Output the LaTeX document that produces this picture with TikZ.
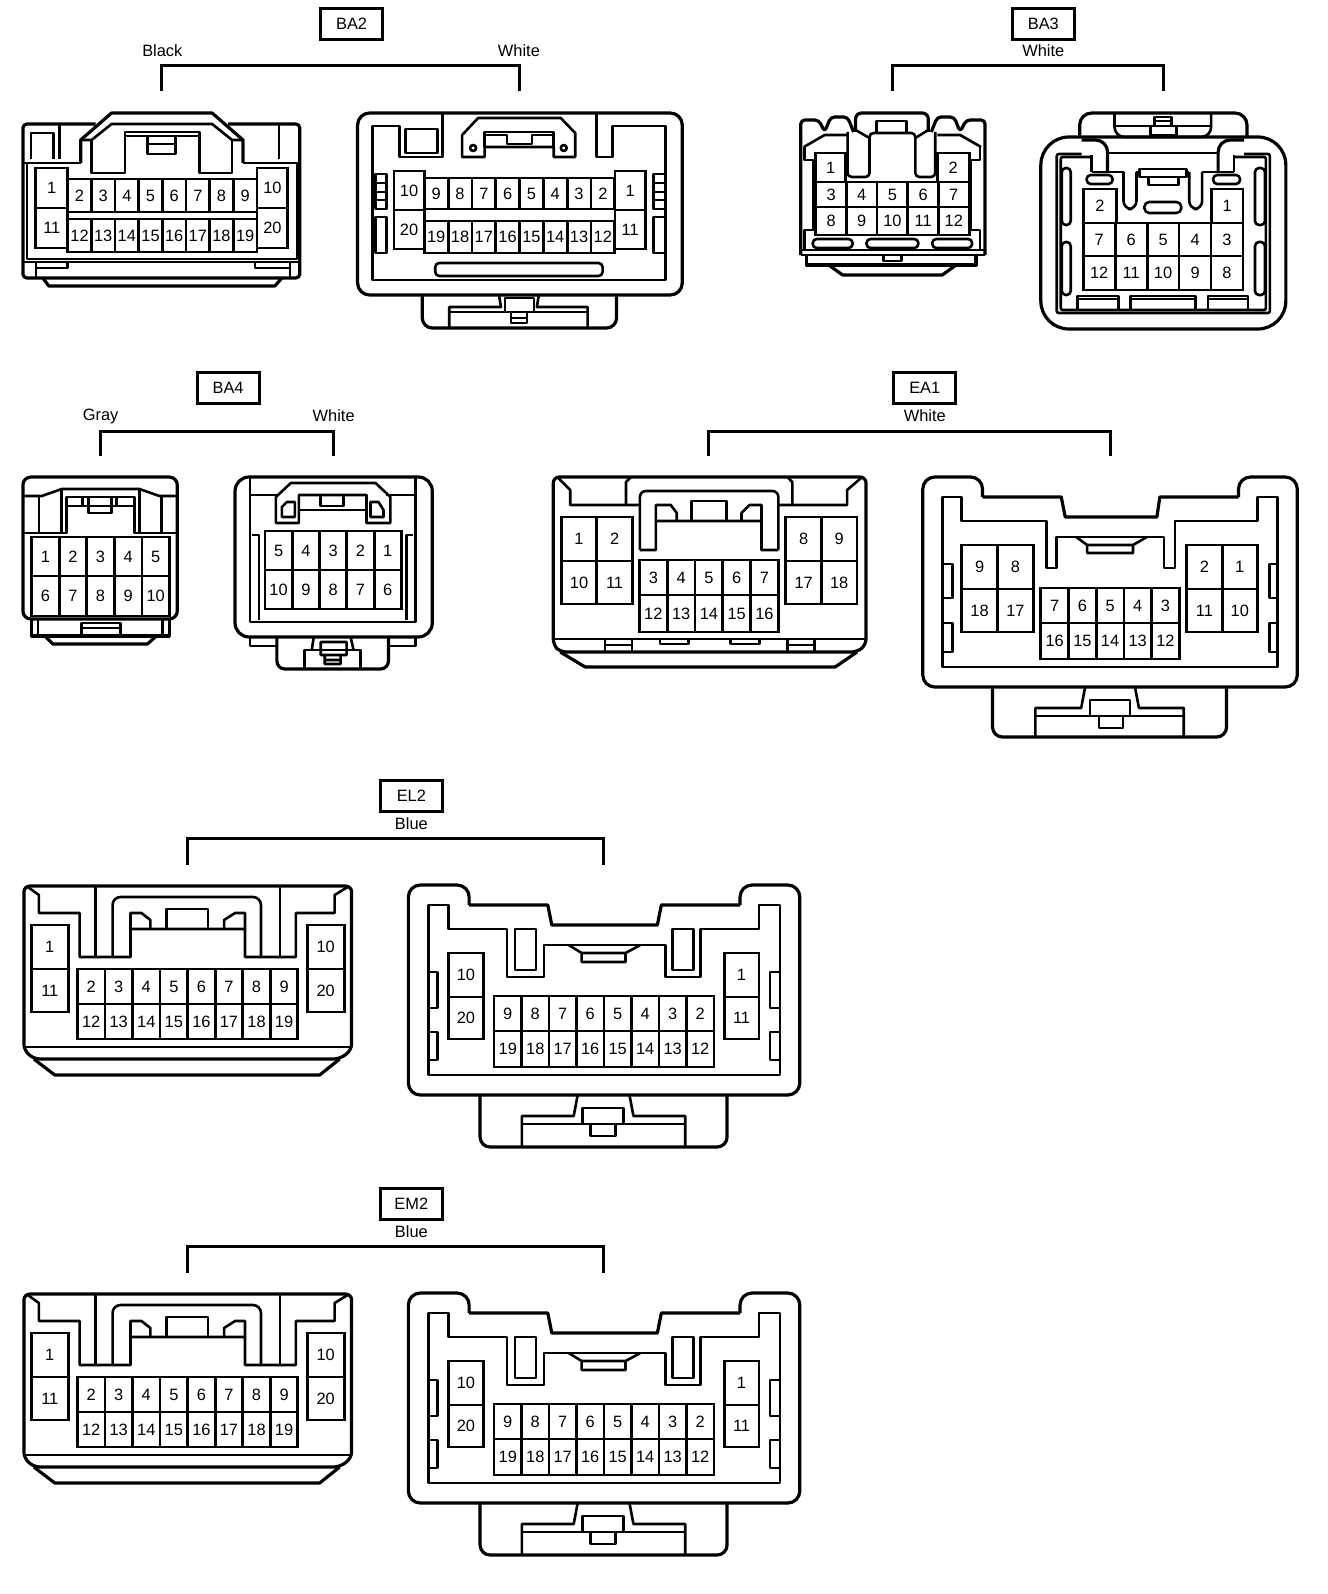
\documentclass[tikz,border=0pt]{standalone}
\usepackage{fontspec}
\setmainfont{Liberation Sans}
\usetikzlibrary{positioning}

% one row of cavities: prefix, left edge, cell width, top edge, cell height, numbers
\newcommand{\cavrow}[6]{
    \foreach \n [count=\i from 0] in {#6} {
        \node[cavity, minimum width=#3*0.498pt, minimum height=#5*0.5pt] (#1\n) at ({#2+(\i+0.5)*#3},{#4+0.5*#5}) {\n};
    }
}

\begin{document}
\begin{tikzpicture}[
        x=0.498pt, y=-0.5pt,
        cavity/.style={rectangle, draw=black, line width=1.4pt, inner sep=0pt, outer sep=0pt, font=\fontsize{8.2}{9}\selectfont},
        tagbox/.style={rectangle, draw=black, line width=1.5pt, minimum width=31pt, minimum height=15.5pt, inner sep=0pt, font=\fontsize{8.2}{9}\selectfont},
        colour/.style={inner sep=0pt, font=\fontsize{8.2}{9}\selectfont},
        bracket/.style={line width=1.5pt},
        outline/.style={line width=1.6pt, line join=round},
        detail/.style={line width=1.3pt, line join=round}
    ]
    \useasboundingbox (0,0) rectangle (1333.3,1594);

    % BA2 labels
    \node[tagbox] (ba2tag) at (353,24) {BA2};
    \node[colour] (ba2black) at (163,51) {Black};
    \node[colour] (ba2white) at (521,51) {White};
    \coordinate (ba2l) at (162,91);
    \coordinate (ba2r) at (521.5,91);
    \draw[bracket] (ba2l) -- ++(0,-25) -| (ba2r);

    % BA2 black
    \draw[outline, rounded corners=2pt] (96,124) -- (23,124) -- (23,278) -- (301,278) -- (301,124) -- (229,124);
    \draw[detail] (23,163) -- (81,163) (244,163) -- (301,163);
    \draw[detail] (27,163) -- (27,259) -- (298,259) -- (298,163);
    \draw[detail] (23,262) -- (301,262);
    \draw[detail] (31,159) -- (31,133) -- (54,133) -- (54,159);
    \draw[detail] (60,124) -- (60,159) (280,124) -- (280,159);
    \draw[outline] (81,163) -- (81,140) -- (112,113) -- (213,113) -- (244,140) -- (244,163);
    \draw[detail] (81,140) -- (92,140) -- (112,124) -- (213,124) -- (233,140) -- (244,140);
    \draw[detail] (92,140) -- (92,173) -- (125.5,173) -- (125.5,132) -- (200,132) -- (200,173) -- (233,173) -- (233,140);
    \draw[detail] (125.5,136) -- (200,136) (148,136) rectangle (176,154) (148,144) -- (176,144);
    \draw[detail] (36,262) -- (36,278) (291,262) -- (291,278);
    \draw[detail] (36,268) -- (68,268) -- (68,262) (291,268) -- (256,268) -- (256,262);
    \draw[outline] (43,278) -- (49,286) -- (276,286) -- (283,278);
    \cavrow{a}{36}{32}{168}{40}{1}
    \cavrow{a}{36}{32}{208}{40}{11}
    \cavrow{a}{258}{31}{168}{40}{10}
    \cavrow{a}{258}{31}{208}{40}{20}
    \cavrow{a}{68}{23.75}{179}{33}{2,3,4,5,6,7,8,9}
    \cavrow{a}{68}{23.75}{219}{33}{12,13,14,15,16,17,18,19}

    % BA2 white
    \draw[outline, rounded corners=6pt] (359,113) rectangle (685,295);
    \draw[detail] (444,113) -- (444,157) -- (401,157) -- (401,126) -- (374,126) -- (374,280) -- (668,280) -- (668,126) -- (615,126) -- (615,157) -- (599,157) -- (599,113);
    \draw[detail] (407,129) rectangle (439,153);
    \draw[detail] (464,157) -- (464,135) -- (480,118) -- (563,118) -- (577.5,133) -- (577.5,157) -- (556,157) -- (556,147) -- (486.5,147) -- (486.5,157) -- cycle;
    \draw[detail] (486.5,147) -- (486.5,132) -- (556,132) -- (556,147);
    \draw[detail] (486.5,135) -- (509,135) -- (509,144) -- (534,144) -- (534,135) -- (556,135);
    \draw[detail] (475,148) circle (3) (566,148) circle (3);
    \draw[detail] (377,174) rectangle (388,209) (377,183) -- (388,183) (377,192) -- (388,192) (377,200) -- (388,200);
    \draw[detail] (377,217) rectangle (388,253);
    \draw[detail] (656,174) rectangle (668,209) (656,183) -- (668,183) (656,192) -- (668,192) (656,200) -- (668,200);
    \draw[detail] (656,217) rectangle (668,253);
    \draw[detail, rounded corners=2pt] (437,263) rectangle (605,276);
    \draw[outline, rounded corners=5pt] (424,295) -- (424,328) -- (619,328) -- (619,295);
    \draw[detail] (451,328) -- (451,307) -- (503,307) -- (501,295) (590,328) -- (590,307) -- (539,307) -- (541,295);
    \draw[detail] (451,312) -- (507,312) (536,312) -- (590,312);
    \draw[detail] (507,298) rectangle (536,312) (513,312) rectangle (529,323) (513,318) -- (529,318);
    \cavrow{b}{395.5}{30.5}{171}{39}{10}
    \cavrow{b}{395.5}{30.5}{210}{39}{20}
    \cavrow{b}{617.5}{30.5}{171}{39}{1}
    \cavrow{b}{617.5}{30.5}{210}{39}{11}
    \cavrow{b}{426}{23.9}{178}{31}{9,8,7,6,5,4,3,2}
    \cavrow{b}{426}{23.9}{221}{32}{19,18,17,16,15,14,13,12}

    % BA3 labels
    \node[tagbox] (ba3tag) at (1047.5,24) {BA3};
    \node[colour] (ba3white) at (1047.5,51) {White};
    \coordinate (ba3l) at (896,91);
    \coordinate (ba3r) at (1168.5,91);
    \draw[bracket] (ba3l) -- ++(0,-25) -| (ba3r);

    % BA3 first
    \begin{scope}[shift={(2,0)}]
    \draw[outline, rounded corners=2pt] (802,255) -- (802,120) -- (820,120) -- (826,132) -- (832,117) -- (849,117) -- (855,132);
    \draw[outline, rounded corners=2pt] (987,255) -- (987,120) -- (968,120) -- (962,132) -- (956,117) -- (939,117) -- (933,132);
    \draw[detail] (805,147) -- (826,135) -- (849,135) (983,147) -- (962,135) -- (939,135);
    \draw[detail] (806,147) -- (806,160) -- (815,160) -- (815,230) -- (806,230) -- (806,250);
    \draw[detail] (982,147) -- (982,160) -- (973,160) -- (973,230) -- (982,230) -- (982,250);
    \draw[detail] (802,250) -- (987,250) (802,255) -- (987,255);
    \draw[outline, rounded corners=3pt] (857,132) -- (857,113) -- (930,113) -- (930,132);
    \draw[detail] (857,130) -- (871,138) (930,130) -- (917,138);
    \draw[detail, rounded corners=2pt] (849,132) -- (849,177) -- (871,177) -- (871,133) -- (917,133) -- (917,177) -- (937,177) -- (937,132);
    \draw[detail] (878,121) rectangle (908,133);
    \draw[detail, rounded corners=2pt] (814,239) rectangle (854,248) (868,239) rectangle (920,248) (934,239) rectangle (974,248);
    \draw[outline] (808,255) -- (808,265) -- (978,265) -- (978,255);
    \draw[detail] (885,255) -- (885,261) -- (903,261) -- (903,255);
    \draw[outline] (830,265) -- (844,275) -- (944,275) -- (958,265);
    \cavrow{c}{817}{30}{153}{29}{1}
    \cavrow{c}{939}{32}{153}{29}{2}
    \cavrow{c}{817}{30.8}{182}{25}{3,4,5,6,7}
    \cavrow{c}{817}{30.8}{207}{28}{8,9,10,11,12}
    \end{scope}

    % BA3 second
    \draw[outline, rounded corners=14pt] (1045,137) rectangle (1291,329);
    \draw[outline, rounded corners=6pt] (1084,137) -- (1084,113) -- (1252,113) -- (1252,137);
    \draw[detail, rounded corners=5pt] (1119,113) -- (1119,137) -- (1216,137) -- (1216,113);
    \draw[detail] (1119,126) -- (1216,126);
    \draw[detail] (1159,117) rectangle (1176,126) (1159,121) -- (1176,121) (1155,126) rectangle (1181,135);
    \draw[detail, rounded corners=1pt] (1086,154) -- (1061,154) -- (1061,313) -- (1275,313) -- (1275,154) -- (1249,154);
    \draw[detail, rounded corners=1pt] (1096,157) -- (1065,157) -- (1065,310) -- (1271,310) -- (1271,157) -- (1239,157);
    \draw[outline, rounded corners=6pt] (1086,140) -- (1112,140) -- (1112,172);
    \draw[outline, rounded corners=6pt] (1249,140) -- (1223,140) -- (1223,172);
    \draw[detail] (1096,172) -- (1096,155) (1239,172) -- (1239,155) (1112,153) -- (1223,153);
    \draw[detail] (1096,172) -- (1128,172) (1207,172) -- (1239,172);
    \draw[detail, rounded corners=4pt] (1128,172) -- (1128,209) -- (1141,209) -- (1141,172);
    \draw[detail, rounded corners=4pt] (1194,172) -- (1194,209) -- (1207,209) -- (1207,172);
    \draw[detail] (1141,172) -- (1144,172) (1191,172) -- (1194,172) (1144,169) rectangle (1191,177) (1153,177) rectangle (1183,185);
    \draw[detail, rounded corners=2.4pt] (1149,202) rectangle (1186,213);
    \draw[detail, rounded corners=2pt] (1091,175) rectangle (1117,184) (1218,175) rectangle (1245,184);
    \draw[detail, rounded corners=2pt] (1066,168) rectangle (1075,225) (1066,242) rectangle (1075,295);
    \draw[detail, rounded corners=2pt] (1260,168) rectangle (1270,225) (1260,242) rectangle (1270,295);
    \draw[detail] (1082,310) -- (1082,296) -- (1123,296) -- (1123,310) (1135,310) -- (1135,296) -- (1200,296) -- (1200,310) (1213,310) -- (1213,296) -- (1253,296) -- (1253,310);
    \draw[detail] (1082,299) -- (1123,299) (1135,299) -- (1200,299) (1213,299) -- (1253,299);
    \cavrow{d}{1087.5}{33.5}{189}{34}{2}
    \cavrow{d}{1216}{32}{189}{34}{1}
    \cavrow{d}{1087.5}{32.1}{223}{33}{7,6,5,4,3}
    \cavrow{d}{1087.5}{32.1}{256}{34}{12,11,10,9,8}

    % BA4 labels
    \node[tagbox] (ba4tag) at (229,388) {BA4};
    \node[colour] (ba4gray) at (101,416) {Gray};
    \node[colour] (ba4white) at (335,416) {White};
    \coordinate (ba4l) at (101,456);
    \coordinate (ba4r) at (335,456);
    \draw[bracket] (ba4l) -- ++(0,-25) -| (ba4r);

    % BA4 gray
    \draw[outline, rounded corners=4pt] (23,619) -- (23,477) -- (178,477) -- (178,619) -- cycle;
    \draw[detail] (23,496) -- (42,496) -- (62,489) -- (140,489) -- (160,496) -- (178,496);
    \draw[detail] (39,496) -- (39,533) (62,489) -- (62,533) (140,489) -- (140,533) (162,496) -- (162,533);
    \draw[detail] (23,533) -- (67,533) -- (67,497) -- (135,497) -- (135,533) -- (178,533);
    \draw[detail] (67,506) -- (135,506) (89,497) -- (89,513) -- (112,513) -- (112,497) (83,497) -- (83,506) (117,497) -- (117,506);
    \draw[outline] (32,619) -- (32,636) -- (170,636) -- (170,619);
    \draw[detail] (38,619) -- (38,636) (163,619) -- (163,636) (82,636) -- (82,623) -- (121,623) -- (121,636) (82,628) -- (121,628);
    \draw[outline] (45,636) -- (53,644) -- (148,644) -- (157,636);
    \cavrow{e}{31.7}{27.7}{537}{39}{1,2,3,4,5}
    \cavrow{e}{31.7}{27.7}{576}{40}{6,7,8,9,10}

    % BA4 white
    \draw[outline, rounded corners=7pt] (236,477) rectangle (434,637);
    \draw[detail] (251,477) -- (251,622) -- (417,622) -- (417,477);
    \draw[detail] (251,495) -- (278,495) (388,495) -- (417,495);
    \draw[detail] (277,523) -- (277,497) -- (292,483) -- (377,483) -- (392,497) -- (392,523) -- (368,523) -- (368,495) -- (300,495) -- (300,523) -- cycle;
    \draw[detail] (300,510) -- (368,510) (322,495) -- (322,506) -- (345,506) -- (345,495);
    \draw[detail] (283,517) -- (283,507) -- (288,502) -- (296,502) -- (296,517) -- cycle;
    \draw[detail] (372,517) -- (372,502) -- (380,502) -- (385,510) -- (385,517) -- cycle;
    \draw[detail] (253,535) -- (260,535) -- (260,620) (415,535) -- (408,535) -- (408,620);
    \draw[detail] (251,637) -- (251,646) -- (278,646) (417,637) -- (417,646) -- (390,646);
    \draw[outline, rounded corners=4pt] (278,637) -- (278,669) -- (390,669) -- (390,637);
    \draw[detail] (306,669) -- (306,650) -- (362,650) -- (362,669);
    \draw[detail] (315,637) -- (313,650) (352,637) -- (355,650) (322,642) rectangle (348,655) (326,655) rectangle (342,664) (326,660) -- (342,660);
    \cavrow{f}{266}{27.4}{531}{39}{5,4,3,2,1}
    \cavrow{f}{266}{27.4}{570}{39}{10,9,8,7,6}

    % EA1 labels and both halves
    \begin{scope}[shift={(2.5,0)}]
    \node[tagbox] (ea1tag) at (926,388) {EA1};
    \node[colour] (ea1white) at (926,416) {White};
    \coordinate (ea1l) at (709,456);
    \coordinate (ea1r) at (1112,456);
    \draw[bracket] (ea1l) -- ++(0,-25) -| (ea1r);

    % EA1 first
    \draw[outline, rounded corners=3pt] (560,652) -- (553,645) -- (553,477) -- (867,477) -- (867,645) -- (858,652) -- cycle;
    \draw[detail] (553,639) -- (867,639);
    \draw[outline] (560,652) -- (585,667) -- (836,667) -- (858,652);
    \draw[detail] (558,478) -- (570,490) -- (570,505) -- (639,505) (779,505) -- (848,505) -- (848,490) -- (862,478);
    \draw[detail] (631,477) -- (626,482) -- (626,505) (788,477) -- (793,482) -- (793,505);
    \draw[detail, rounded corners=3pt] (640,550) -- (640,491) -- (779,491) -- (779,550);
    \draw[detail] (640,550) -- (656,550) -- (656,505) -- (671,505) -- (677,513) -- (677,521) (656,521) -- (762,521);
    \draw[detail] (779,550) -- (762,550) -- (762,505) -- (750,505) -- (742,513) -- (742,521);
    \draw[detail] (691.5,521) -- (691.5,501) -- (727,501) -- (727,521);
    \draw[detail] (605,639) -- (605,652) (632,639) -- (632,652) (605,645) -- (632,645);
    \draw[detail] (788,639) -- (788,652) (815,639) -- (815,652) (788,645) -- (815,645);
    \draw[detail] (660,639) -- (660,644) -- (689,644) -- (689,639) (731,639) -- (731,644) -- (760,644) -- (760,639);
    \cavrow{g}{561}{35.7}{517}{44}{1,2}
    \cavrow{g}{561}{35.7}{561}{43}{10,11}
    \cavrow{g}{786.5}{35.7}{517}{44}{8,9}
    \cavrow{g}{786.5}{35.7}{561}{43}{17,18}
    \cavrow{g}{639.5}{27.9}{560}{35}{3,4,5,6,7}
    \cavrow{g}{639.5}{27.9}{595}{37}{12,13,14,15,16}

    % EA1 second
    \draw[outline, rounded corners=6pt] (984,497) -- (984,477) -- (924,477) -- (924,687) -- (1300,687) -- (1300,477) -- (1241,477) -- (1241,497);
    \draw[outline] (984,497) -- (1063,497) -- (1067,517) -- (1159,517) -- (1162,497) -- (1241,497);
    \draw[detail] (944,667) -- (944,497) -- (963,497) -- (963,521) -- (1048,521) -- (1048,568) -- (1058,568) -- (1058,537) -- (1166,537) -- (1166,568) -- (1177,568) -- (1177,521) -- (1260,521) -- (1260,497) -- (1280,497) -- (1280,667) -- cycle;
    \draw[detail] (1078,537) -- (1089,545) -- (1135,545) -- (1149,537) (1089,545) -- (1089,553) -- (1135,553) -- (1135,545);
    \draw[detail] (944,564) -- (954,564) -- (954,598) -- (944,598) (944,623) -- (954,623) -- (954,652) -- (944,652);
    \draw[detail] (1280,564) -- (1272,564) -- (1272,598) -- (1280,598) (1280,623) -- (1272,623) -- (1272,652) -- (1280,652);
    \draw[outline, rounded corners=5pt] (994,687) -- (994,737) -- (1229,737) -- (1229,687);
    \draw[detail] (1037,737) -- (1037,708) -- (1083,708) -- (1087,687) (1186,737) -- (1186,708) -- (1141,708) -- (1137,687);
    \draw[detail] (1037,716) -- (1186,716) (1092,700) rectangle (1132,716) (1101,716) rectangle (1125,728);
    \cavrow{h}{963}{36}{545}{44}{9,8}
    \cavrow{h}{963}{36}{589}{43}{18,17}
    \cavrow{h}{1189}{35.5}{545}{44}{2,1}
    \cavrow{h}{1189}{35.5}{589}{43}{11,10}
    \cavrow{h}{1042.5}{27.8}{588}{35}{7,6,5,4,3}
    \cavrow{h}{1042.5}{27.8}{623}{36}{16,15,14,13,12}
    \end{scope}

    % EL2 and EM2 are the same drawing
    \foreach \conn/\dy in {EL2/0, EM2/408} {
    \begin{scope}[shift={(0,\dy)}]
        \node[tagbox] (\conn tag) at (413,796) {\conn};
        \node[colour] (\conn blue) at (413,824) {Blue};
        \coordinate (\conn l) at (188,865);
        \coordinate (\conn r) at (606,865);
        \draw[bracket] (\conn l) -- ++(0,-27) -| (\conn r);

        % first
        \draw[outline, rounded corners=3pt] (34,1059) -- (24,1050) -- (24,886) -- (353,886) -- (353,1050) -- (341,1059) -- cycle;
        \draw[detail] (24,1047) -- (353,1047);
        \draw[outline] (34,1059) -- (55,1075) -- (321,1075) -- (341,1059);
        \draw[detail] (28,887) -- (39,895) -- (39,913) -- (80,913) -- (80,957) -- (131,957) -- (131,929) -- (246,929) -- (246,957) -- (297,957) -- (297,913) -- (336,913) -- (336,895) -- (349,887);
        \draw[detail] (96,886) -- (96,957) (281,886) -- (281,957);
        \draw[detail, rounded corners=4pt] (113,957) -- (113,897) -- (262,897) -- (262,957);
        \draw[detail] (131,929) -- (131,913) -- (142,913) -- (151,920) -- (151,929);
        \draw[detail] (246,929) -- (246,913) -- (236,913) -- (225,920) -- (225,929);
        \draw[detail] (167,929) -- (167,909) -- (209,909) -- (209,929);
        \cavrow{\conn a}{31.5}{37}{925}{44}{1}
        \cavrow{\conn a}{31.5}{37}{969}{43}{11}
        \cavrow{\conn a}{308.5}{37}{925}{44}{10}
        \cavrow{\conn a}{308.5}{37}{969}{43}{20}
        \cavrow{\conn a}{77.7}{27.67}{969}{35}{2,3,4,5,6,7,8,9}
        \cavrow{\conn a}{77.7}{27.67}{1004}{35}{12,13,14,15,16,17,18,19}

        % second
        \draw[outline, rounded corners=6pt] (471,905) -- (471,885) -- (410,885) -- (410,1095) -- (803,1095) -- (803,885) -- (743,885) -- (743,905);
        \draw[outline] (471,905) -- (550,905) -- (554,925) -- (660,925) -- (664,905) -- (743,905);
        \draw[detail] (430,1075) -- (430,905) -- (450,905) -- (450,929) -- (509,929) -- (509,977) -- (546,977) -- (546,945) -- (668,945) -- (668,977) -- (703,977) -- (703,929) -- (762,929) -- (762,905) -- (783,905) -- (783,1075) -- cycle;
        \draw[detail] (517,929) rectangle (538,970) (675,929) rectangle (696,970);
        \draw[detail] (571,945) -- (584,953) -- (628,953) -- (643,945) (584,953) -- (584,962) -- (628,962) -- (628,953);
        \draw[detail] (430,972) -- (439,972) -- (439,1008) -- (430,1008) (430,1032) -- (439,1032) -- (439,1060) -- (430,1060);
        \draw[detail] (783,972) -- (773,972) -- (773,1008) -- (783,1008) (783,1032) -- (773,1032) -- (773,1060) -- (783,1060);
        \draw[outline, rounded corners=5pt] (482,1095) -- (482,1147) -- (730,1147) -- (730,1095);
        \draw[detail] (524,1147) -- (524,1116) -- (576,1116) -- (580,1095) (688,1147) -- (688,1116) -- (636,1116) -- (632,1095);
        \draw[detail] (524,1124) -- (688,1124) (585,1108) rectangle (626,1124) (593,1124) rectangle (618,1136);
        \cavrow{\conn b}{450}{35.5}{953}{44}{10}
        \cavrow{\conn b}{450}{35.5}{997}{42}{20}
        \cavrow{\conn b}{727}{35}{953}{44}{1}
        \cavrow{\conn b}{727}{35}{997}{42}{11}
        \cavrow{\conn b}{496}{27.6}{996}{35}{9,8,7,6,5,4,3,2}
        \cavrow{\conn b}{496}{27.6}{1031}{36}{19,18,17,16,15,14,13,12}
    \end{scope}
    }

\end{tikzpicture}
\end{document}
